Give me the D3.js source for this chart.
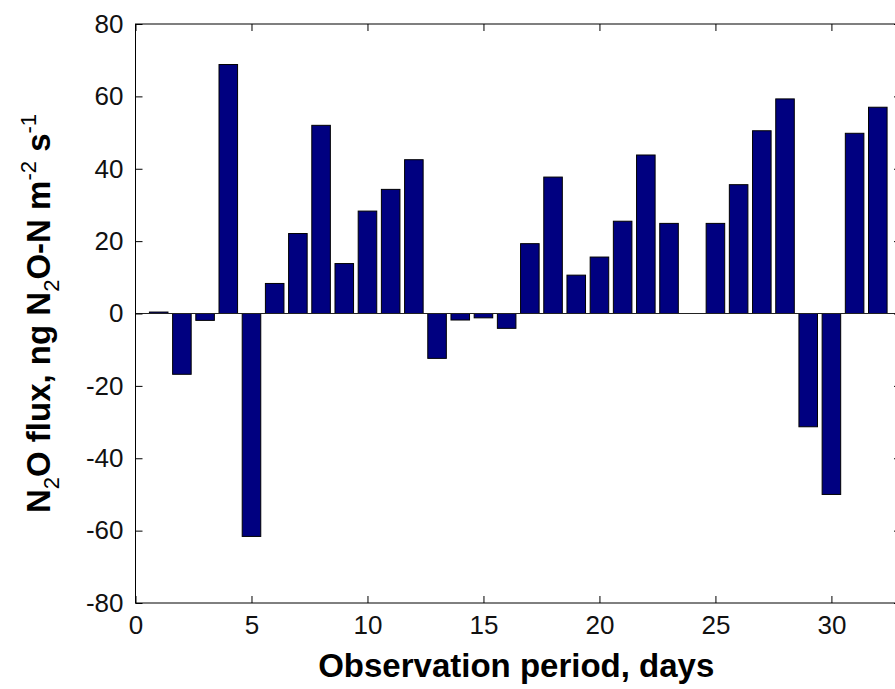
<!DOCTYPE html>
<html>
<head>
<meta charset="utf-8">
<script src="https://cdn.jsdelivr.net/npm/d3@7"></script>
<style>
  body { margin: 0; background: #fff; }
  .tick text { font-family: Arial, "Liberation Sans", sans-serif; }
</style>
</head>
<body>
<script>
// days on the x axis (day 24 has no measurement)
var days = [1, 2, 3, 4, 5, 6, 7, 8, 9, 10, 11, 12, 13, 14, 15, 16,
            17, 18, 19, 20, 21, 22, 23, 24, 25, 26, 27, 28, 29, 30, 31, 32];
// N2O flux per day
var flux = [0.4, -16.8, -1.9, 68.8, -61.6, 8.3, 22.1, 52, 13.8, 28.3, 34.3, 42.5, -12.4, -1.8, -1.2, -4.1,
            19.3, 37.7, 10.6, 15.6, 25.5, 43.8, 24.9, null, 24.9, 35.6, 50.5, 59.3, -31.3, -50, 49.8, 57];
var xTicks = [0, 5, 10, 15, 20, 25, 30];
var yTicks = [-80, -60, -40, -20, 0, 20, 40, 60, 80];

var data = days.map(function (d, i) { return {day: d, value: flux[i]}; })
  .filter(function (d) { return d.value !== null; });

var W = 895, H = 689;
// plot box (right side runs past the window edge like the original)
var pLeft = 135.5, pRight = 901, pTop = 24, pBottom = 603;

var x = d3.scaleLinear().domain([0, 33]).range([pLeft, pRight]);
var y = d3.scaleLinear().domain([-80, 80]).range([pBottom, pTop]);

var svg = d3.select("body").append("svg")
    .attr("width", W)
    .attr("height", H);

// bars, MATLAB style 0.8 wide
var barW = x(0.8) - x(0);
svg.selectAll("rect.bar")
    .data(data)
  .enter().append("rect")
    .attr("class", "bar")
    .attr("x", function (d) { return x(d.day) - barW / 2; })
    .attr("width", barW)
    .attr("y", function (d) { return y(Math.max(0, d.value)); })
    .attr("height", function (d) { return Math.abs(y(d.value) - y(0)); })
    .attr("fill", "#000080")
    .attr("stroke", "#000")
    .attr("stroke-width", 1);

// zero baseline
svg.append("line")
    .attr("x1", pLeft).attr("x2", pRight)
    .attr("y1", y(0)).attr("y2", y(0))
    .attr("stroke", "#222")
    .attr("stroke-width", 1);

// plain hyphen minus like matlab, not the unicode minus d3 uses
var fmt = function (d) { return String(d); };

// axes, ticks point inward
var fontSize = "26px";
svg.append("g")
    .attr("transform", "translate(0," + pBottom + ")")
    .call(d3.axisBottom(x).tickValues(xTicks).tickFormat(fmt).tickSizeInner(-7).tickSizeOuter(0).tickPadding(13))
    .call(function (g) { g.select(".domain").remove(); })
    .selectAll("text").style("font-size", fontSize).attr("fill", "#111");

svg.append("g")
    .attr("transform", "translate(0," + pTop + ")")
    .call(d3.axisTop(x).tickValues(xTicks).tickSizeInner(-7).tickSizeOuter(0).tickFormat(""))
    .call(function (g) { g.select(".domain").remove(); });

svg.append("g")
    .attr("transform", "translate(" + pLeft + ",0)")
    .call(d3.axisLeft(y).tickValues(yTicks).tickFormat(fmt).tickSizeInner(-7).tickSizeOuter(0).tickPadding(12))
    .call(function (g) { g.select(".domain").remove(); })
    .selectAll("text").style("font-size", fontSize).attr("fill", "#111");

svg.append("g")
    .attr("transform", "translate(" + pRight + ",0)")
    .call(d3.axisRight(y).tickValues(yTicks).tickSizeInner(-7).tickSizeOuter(0).tickFormat(""))
    .call(function (g) { g.select(".domain").remove(); });

svg.selectAll(".tick line").attr("stroke", "#000");

// box around the plot
svg.append("rect")
    .attr("x", pLeft).attr("y", pTop)
    .attr("width", pRight - pLeft).attr("height", pBottom - pTop)
    .attr("fill", "none")
    .attr("stroke", "#000")
    .attr("stroke-width", 1);

// x title
svg.append("text")
    .attr("x", (pLeft + pRight) / 2 - 2)
    .attr("y", 677)
    .attr("text-anchor", "middle")
    .style("font-family", "Arial, 'Liberation Sans', sans-serif")
    .style("font-size", "33px")
    .style("font-weight", "bold")
    .text("Observation period, days");

// y title with sub/superscripts
var yl = svg.append("text")
    .attr("transform", "translate(50," + ((pTop + pBottom) / 2) + ") rotate(-90)")
    .attr("text-anchor", "middle")
    .style("font-family", "Arial, 'Liberation Sans', sans-serif")
    .style("font-size", "33px")
    .style("font-weight", "bold");

var parts = [
  ["N", 0], ["2", 1], ["O flux, ng N", 0], ["2", 1], ["O-N m", 0], ["-2", -1], [" s", 0], ["-1", -1]
];
var shift = 0;
parts.forEach(function (p) {
  var target = p[1] === 1 ? 9 : (p[1] === -1 ? -14 : 0);
  var t = yl.append("tspan")
      .attr("dy", target - shift)
      .text(p[0]);
  if (p[1] !== 0) t.style("font-size", "22px").style("font-weight", "normal");
  shift = target;
});
</script>
</body>
</html>
